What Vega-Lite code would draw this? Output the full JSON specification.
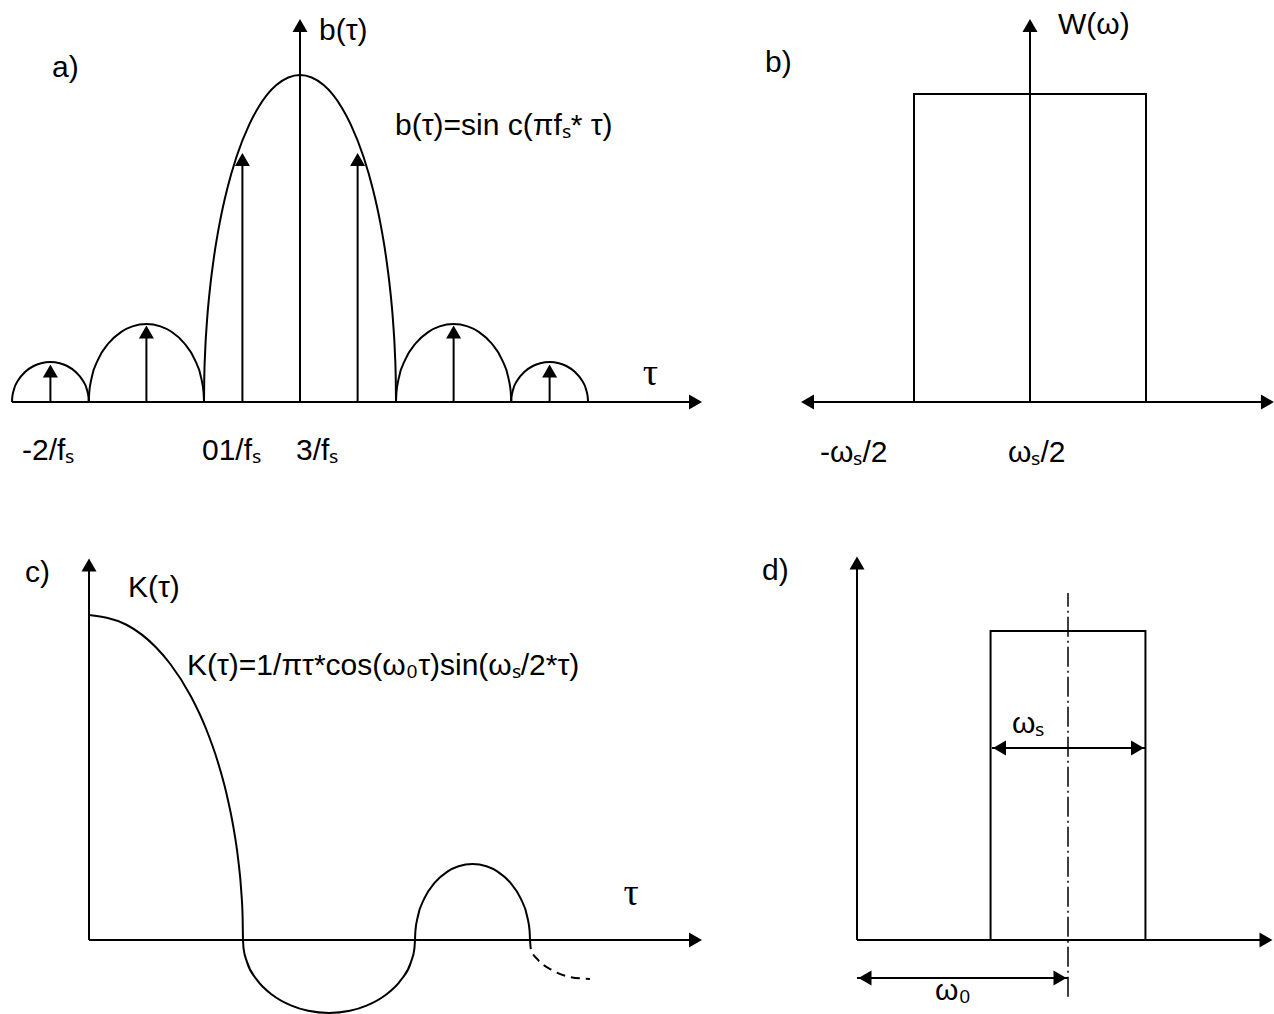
{
  "$schema": "https://vega.github.io/schema/vega-lite/v6.json",
  "padding": 0,
  "bounds": "flush",
  "spacing": 0,
  "columns": 2,
  "background": "white",
  "config": {"view": {"stroke": null}},
  "datasets": {
    "aCurves": [
      {"seg": "L3", "x": -3.0, "y": 0}, {"seg": "L3", "x": -2.9971, "y": 0.0147}, {"seg": "L3", "x": -2.9816, "y": 0.0367}, {"seg": "L3", "x": -2.934, "y": 0.0673}, {"seg": "L3", "x": -2.8644, "y": 0.0917}, {"seg": "L3", "x": -2.7744, "y": 0.1101}, {"seg": "L3", "x": -2.6972, "y": 0.1186}, {"seg": "L3", "x": -2.6, "y": 0.1223}, {"seg": "L3", "x": -2.5028, "y": 0.1186}, {"seg": "L3", "x": -2.4256, "y": 0.1101}, {"seg": "L3", "x": -2.3356, "y": 0.0917}, {"seg": "L3", "x": -2.266, "y": 0.0673}, {"seg": "L3", "x": -2.2184, "y": 0.0367}, {"seg": "L3", "x": -2.2029, "y": 0.0147}, {"seg": "L3", "x": -2.2, "y": 0},
      {"seg": "L2", "x": -2.2, "y": 0}, {"seg": "L2", "x": -2.1957, "y": 0.0286}, {"seg": "L2", "x": -2.1724, "y": 0.0716}, {"seg": "L2", "x": -2.101, "y": 0.1312}, {"seg": "L2", "x": -1.9966, "y": 0.1789}, {"seg": "L2", "x": -1.8616, "y": 0.2147}, {"seg": "L2", "x": -1.7458, "y": 0.2313}, {"seg": "L2", "x": -1.6, "y": 0.2385}, {"seg": "L2", "x": -1.4542, "y": 0.2313}, {"seg": "L2", "x": -1.3384, "y": 0.2147}, {"seg": "L2", "x": -1.2034, "y": 0.1789}, {"seg": "L2", "x": -1.099, "y": 0.1312}, {"seg": "L2", "x": -1.0276, "y": 0.0716}, {"seg": "L2", "x": -1.0043, "y": 0.0286}, {"seg": "L2", "x": -1.0, "y": 0},
      {"seg": "M", "x": -1.0, "y": 0}, {"seg": "M", "x": -0.9975, "y": 0.07}, {"seg": "M", "x": -0.9887, "y": 0.15}, {"seg": "M", "x": -0.9682, "y": 0.25}, {"seg": "M", "x": -0.9367, "y": 0.35}, {"seg": "M", "x": -0.893, "y": 0.45}, {"seg": "M", "x": -0.8352, "y": 0.55}, {"seg": "M", "x": -0.76, "y": 0.65}, {"seg": "M", "x": -0.6614, "y": 0.75}, {"seg": "M", "x": -0.5268, "y": 0.85}, {"seg": "M", "x": -0.4359, "y": 0.9}, {"seg": "M", "x": -0.2431, "y": 0.97}, {"seg": "M", "x": 0, "y": 1}, {"seg": "M", "x": 0.2431, "y": 0.97}, {"seg": "M", "x": 0.4359, "y": 0.9}, {"seg": "M", "x": 0.5268, "y": 0.85}, {"seg": "M", "x": 0.6614, "y": 0.75}, {"seg": "M", "x": 0.76, "y": 0.65}, {"seg": "M", "x": 0.8352, "y": 0.55}, {"seg": "M", "x": 0.893, "y": 0.45}, {"seg": "M", "x": 0.9367, "y": 0.35}, {"seg": "M", "x": 0.9682, "y": 0.25}, {"seg": "M", "x": 0.9887, "y": 0.15}, {"seg": "M", "x": 0.9975, "y": 0.07}, {"seg": "M", "x": 1.0, "y": 0},
      {"seg": "R2", "x": 1.0, "y": 0}, {"seg": "R2", "x": 1.0043, "y": 0.0286}, {"seg": "R2", "x": 1.0276, "y": 0.0716}, {"seg": "R2", "x": 1.099, "y": 0.1312}, {"seg": "R2", "x": 1.2034, "y": 0.1789}, {"seg": "R2", "x": 1.3384, "y": 0.2147}, {"seg": "R2", "x": 1.4542, "y": 0.2313}, {"seg": "R2", "x": 1.6, "y": 0.2385}, {"seg": "R2", "x": 1.7458, "y": 0.2313}, {"seg": "R2", "x": 1.8616, "y": 0.2147}, {"seg": "R2", "x": 1.9966, "y": 0.1789}, {"seg": "R2", "x": 2.101, "y": 0.1312}, {"seg": "R2", "x": 2.1724, "y": 0.0716}, {"seg": "R2", "x": 2.1957, "y": 0.0286}, {"seg": "R2", "x": 2.2, "y": 0},
      {"seg": "R3", "x": 2.2, "y": 0}, {"seg": "R3", "x": 2.2029, "y": 0.0147}, {"seg": "R3", "x": 2.2184, "y": 0.0367}, {"seg": "R3", "x": 2.266, "y": 0.0673}, {"seg": "R3", "x": 2.3356, "y": 0.0917}, {"seg": "R3", "x": 2.4256, "y": 0.1101}, {"seg": "R3", "x": 2.5028, "y": 0.1186}, {"seg": "R3", "x": 2.6, "y": 0.1223}, {"seg": "R3", "x": 2.6972, "y": 0.1186}, {"seg": "R3", "x": 2.7744, "y": 0.1101}, {"seg": "R3", "x": 2.8644, "y": 0.0917}, {"seg": "R3", "x": 2.934, "y": 0.0673}, {"seg": "R3", "x": 2.9816, "y": 0.0367}, {"seg": "R3", "x": 2.9971, "y": 0.0147}, {"seg": "R3", "x": 3.0, "y": 0}
    ],
    "aRules": [
      {"x": -3.0, "y": 0, "x2": 4.0625, "y2": 0},
      {"x": 0, "y": 0, "x2": 0, "y2": 1.1514},
      {"x": -0.6, "y": 0, "x2": -0.6, "y2": 0.7416},
      {"x": 0.6, "y": 0, "x2": 0.6, "y2": 0.7416},
      {"x": -1.6, "y": 0, "x2": -1.6, "y2": 0.214},
      {"x": 1.6, "y": 0, "x2": 1.6, "y2": 0.214},
      {"x": -2.6, "y": 0, "x2": -2.6, "y2": 0.0948},
      {"x": 2.6, "y": 0, "x2": 2.6, "y2": 0.0948}
    ],
    "aHeads": [
      {"x": 4.1198, "y": 0, "dir": "right"},
      {"x": 0, "y": 1.1514, "dir": "up"},
      {"x": -0.6, "y": 0.7416, "dir": "up"},
      {"x": 0.6, "y": 0.7416, "dir": "up"},
      {"x": -1.6, "y": 0.214, "dir": "up"},
      {"x": 1.6, "y": 0.214, "dir": "up"},
      {"x": -2.6, "y": 0.0948, "dir": "up"},
      {"x": 2.6, "y": 0.0948, "dir": "up"}
    ],
    "aText": [
      {"x": -2.583, "y": 0.9939, "t": "a)"},
      {"x": 0.198, "y": 1.107, "t": "b(τ)"},
      {"x": 0.9896, "y": 0.8165, "t": "b(τ)=sin c(πfₛ* τ)"},
      {"x": -2.896, "y": -0.1774, "t": "-2/fₛ"},
      {"x": -1.021, "y": -0.1774, "t": "01/fₛ"},
      {"x": -0.0417, "y": -0.1774, "t": "3/fₛ"}
    ],
    "aSerif": [
      {"x": 3.57, "y": 0.052, "t": "τ"}
    ],
    "bRules": [
      {"x": -1.914, "y": 0, "x2": 2.0, "y2": 0},
      {"x": 0, "y": 0, "x2": 0, "y2": 1.2078}
    ],
    "bRect": [
      {"x": -1, "y": 0, "x2": 1, "y2": 1}
    ],
    "bHeads": [
      {"x": -1.918, "y": 0, "dir": "left"},
      {"x": 2.047, "y": 0, "dir": "right"},
      {"x": 0, "y": 1.2224, "dir": "up"}
    ],
    "bText": [
      {"x": -2.284, "y": 1.0714, "t": "b)"},
      {"x": 0.2414, "y": 1.1948, "t": "W(ω)"},
      {"x": -1.81, "y": -0.1948, "t": "-ωₛ/2"},
      {"x": -0.1897, "y": -0.1948, "t": "ωₛ/2"}
    ],
    "cCurves": [
      {"seg": "main", "x": 0, "y": 1}, {"seg": "main", "x": 0.2431, "y": 0.97}, {"seg": "main", "x": 0.4359, "y": 0.9}, {"seg": "main", "x": 0.5268, "y": 0.85}, {"seg": "main", "x": 0.6614, "y": 0.75}, {"seg": "main", "x": 0.76, "y": 0.65}, {"seg": "main", "x": 0.8352, "y": 0.55}, {"seg": "main", "x": 0.893, "y": 0.45}, {"seg": "main", "x": 0.9367, "y": 0.35}, {"seg": "main", "x": 0.9682, "y": 0.25}, {"seg": "main", "x": 0.9887, "y": 0.15}, {"seg": "main", "x": 0.9975, "y": 0.07}, {"seg": "main", "x": 1.0, "y": 0},
      {"seg": "neg", "x": 1.0, "y": 0}, {"seg": "neg", "x": 1.004, "y": -0.027}, {"seg": "neg", "x": 1.0257, "y": -0.0674}, {"seg": "neg", "x": 1.0921, "y": -0.1235}, {"seg": "neg", "x": 1.1893, "y": -0.1685}, {"seg": "neg", "x": 1.3149, "y": -0.2021}, {"seg": "neg", "x": 1.4227, "y": -0.2179}, {"seg": "neg", "x": 1.5584, "y": -0.2246}, {"seg": "neg", "x": 1.6941, "y": -0.2179}, {"seg": "neg", "x": 1.8019, "y": -0.2021}, {"seg": "neg", "x": 1.9275, "y": -0.1685}, {"seg": "neg", "x": 2.0247, "y": -0.1235}, {"seg": "neg", "x": 2.0911, "y": -0.0674}, {"seg": "neg", "x": 2.1128, "y": -0.027}, {"seg": "neg", "x": 2.1168, "y": 0},
      {"seg": "pos", "x": 2.1168, "y": 0}, {"seg": "pos", "x": 2.1196, "y": 0.0281}, {"seg": "pos", "x": 2.1341, "y": 0.0701}, {"seg": "pos", "x": 2.1785, "y": 0.1286}, {"seg": "pos", "x": 2.2435, "y": 0.1754}, {"seg": "pos", "x": 2.3275, "y": 0.2104}, {"seg": "pos", "x": 2.3996, "y": 0.2268}, {"seg": "pos", "x": 2.4903, "y": 0.2338}, {"seg": "pos", "x": 2.581, "y": 0.2268}, {"seg": "pos", "x": 2.6531, "y": 0.2104}, {"seg": "pos", "x": 2.7371, "y": 0.1754}, {"seg": "pos", "x": 2.8021, "y": 0.1286}, {"seg": "pos", "x": 2.8465, "y": 0.0701}, {"seg": "pos", "x": 2.861, "y": 0.0281}, {"seg": "pos", "x": 2.8637, "y": 0}
    ],
    "cDashed": [
      {"x": 2.8637, "y": 0}, {"x": 2.87, "y": -0.03}, {"x": 2.916, "y": -0.0615}, {"x": 3.006, "y": -0.0923}, {"x": 3.123, "y": -0.1138}, {"x": 3.253, "y": -0.12}
    ],
    "cRules": [
      {"x": 0, "y": 0, "x2": 3.9026, "y2": 0},
      {"x": 0, "y": 0, "x2": 0, "y2": 1.1538}
    ],
    "cHeads": [
      {"x": 3.9383, "y": 0, "dir": "right"},
      {"x": 0, "y": 1.1538, "dir": "up"}
    ],
    "cText": [
      {"x": -0.4156, "y": 1.1015, "t": "c)"},
      {"x": 0.2532, "y": 1.0554, "t": "K(τ)"},
      {"x": 0.6364, "y": 0.8154, "t": "K(τ)=1/πτ*cos(ω₀τ)sin(ωₛ/2*τ)"}
    ],
    "cSerif": [
      {"x": 3.47, "y": 0.1077, "t": "τ"}
    ],
    "dRules": [
      {"x": 0, "y": 0, "x2": 1.919, "y2": 0},
      {"x": 0, "y": 0, "x2": 0, "y2": 1.22},
      {"x": 0.64, "y": 0.6214, "x2": 1.365, "y2": 0.6214},
      {"x": 0.0, "y": -0.123, "x2": 1.0, "y2": -0.123}
    ],
    "dCenter": [
      {"x": 1.0, "y": -0.184, "x2": 1.0, "y2": 1.123}
    ],
    "dRect": [
      {"x": 0.633, "y": 0, "x2": 1.367, "y2": 1}
    ],
    "dHeads": [
      {"x": 1.9384, "y": 0, "dir": "right"},
      {"x": 0, "y": 1.22, "dir": "up"},
      {"x": 0.6754, "y": 0.6214, "dir": "left"},
      {"x": 1.3294, "y": 0.6214, "dir": "right"},
      {"x": 0.0379, "y": -0.123, "dir": "left"},
      {"x": 0.962, "y": -0.123, "dir": "right"}
    ],
    "dText": [
      {"x": -0.4502, "y": 1.165, "t": "d)"},
      {"x": 0.7346, "y": 0.6699, "t": "ωₛ"},
      {"x": 0.3697, "y": -0.1942, "t": "ω₀"}
    ]
  },
  "concat": [
    {
      "width": 730, "height": 507,
      "encoding": {
        "x": {"field": "x", "type": "quantitative", "scale": {"domain": [-3.125, 4.479], "nice": false, "zero": false}, "axis": null},
        "y": {"field": "y", "type": "quantitative", "scale": {"domain": [-0.3211, 1.2294], "nice": false, "zero": false}, "axis": null}
      },
      "layer": [
        {"data": {"name": "aCurves"}, "mark": {"type": "line", "interpolate": "monotone", "strokeWidth": 2, "color": "black"}, "encoding": {"detail": {"field": "seg"}}},
        {"data": {"name": "aRules"}, "mark": {"type": "rule", "strokeWidth": 2, "color": "black"}, "encoding": {"x2": {"field": "x2"}, "y2": {"field": "y2"}}},
        {"data": {"name": "aHeads"}, "mark": {"type": "point", "filled": true, "size": 225, "color": "black", "opacity": 1, "strokeWidth": 0}, "encoding": {"shape": {"field": "dir", "type": "nominal", "scale": {"domain": ["up", "down", "left", "right"], "range": ["triangle-up", "triangle-down", "triangle-left", "triangle-right"]}, "legend": null}}},
        {"data": {"name": "aText"}, "mark": {"type": "text", "align": "left", "baseline": "alphabetic", "font": "Liberation Sans", "fontSize": 30, "color": "black"}, "encoding": {"text": {"field": "t"}}},
        {"data": {"name": "aSerif"}, "mark": {"type": "text", "align": "left", "baseline": "alphabetic", "font": "Liberation Serif", "fontSize": 38, "color": "black"}, "encoding": {"text": {"field": "t"}}}
      ]
    },
    {
      "width": 544, "height": 507,
      "encoding": {
        "x": {"field": "x", "type": "quantitative", "scale": {"domain": [-2.5862, 2.1034], "nice": false, "zero": false}, "axis": null},
        "y": {"field": "y", "type": "quantitative", "scale": {"domain": [-0.3409, 1.3052], "nice": false, "zero": false}, "axis": null}
      },
      "layer": [
        {"data": {"name": "bRect"}, "mark": {"type": "rect", "fillOpacity": 0, "stroke": "black", "strokeWidth": 2}, "encoding": {"x2": {"field": "x2"}, "y2": {"field": "y2"}}},
        {"data": {"name": "bRules"}, "mark": {"type": "rule", "strokeWidth": 2, "color": "black"}, "encoding": {"x2": {"field": "x2"}, "y2": {"field": "y2"}}},
        {"data": {"name": "bHeads"}, "mark": {"type": "point", "filled": true, "size": 225, "color": "black", "opacity": 1, "strokeWidth": 0}, "encoding": {"shape": {"field": "dir", "type": "nominal", "scale": {"domain": ["up", "down", "left", "right"], "range": ["triangle-up", "triangle-down", "triangle-left", "triangle-right"]}, "legend": null}}},
        {"data": {"name": "bText"}, "mark": {"type": "text", "align": "left", "baseline": "alphabetic", "font": "Liberation Sans", "fontSize": 30, "color": "black"}, "encoding": {"text": {"field": "t"}}}
      ]
    },
    {
      "width": 730, "height": 507,
      "encoding": {
        "x": {"field": "x", "type": "quantitative", "scale": {"domain": [-0.5779, 4.1623], "nice": false, "zero": false}, "axis": null},
        "y": {"field": "y", "type": "quantitative", "scale": {"domain": [-0.2277, 1.3323], "nice": false, "zero": false}, "axis": null}
      },
      "layer": [
        {"data": {"name": "cCurves"}, "mark": {"type": "line", "interpolate": "monotone", "strokeWidth": 2, "color": "black"}, "encoding": {"detail": {"field": "seg"}}},
        {"data": {"name": "cDashed"}, "mark": {"type": "line", "interpolate": "monotone", "strokeWidth": 2, "color": "black", "strokeDash": [9, 6]}, "encoding": {}},
        {"data": {"name": "cRules"}, "mark": {"type": "rule", "strokeWidth": 2, "color": "black"}, "encoding": {"x2": {"field": "x2"}, "y2": {"field": "y2"}}},
        {"data": {"name": "cHeads"}, "mark": {"type": "point", "filled": true, "size": 225, "color": "black", "opacity": 1, "strokeWidth": 0}, "encoding": {"shape": {"field": "dir", "type": "nominal", "scale": {"domain": ["up", "down", "left", "right"], "range": ["triangle-up", "triangle-down", "triangle-left", "triangle-right"]}, "legend": null}}},
        {"data": {"name": "cText"}, "mark": {"type": "text", "align": "left", "baseline": "alphabetic", "font": "Liberation Sans", "fontSize": 30, "color": "black"}, "encoding": {"text": {"field": "t"}}},
        {"data": {"name": "cSerif"}, "mark": {"type": "text", "align": "left", "baseline": "alphabetic", "font": "Liberation Serif", "fontSize": 38, "color": "black"}, "encoding": {"text": {"field": "t"}}}
      ]
    },
    {
      "width": 544, "height": 507,
      "encoding": {
        "x": {"field": "x", "type": "quantitative", "scale": {"domain": [-0.6019, 1.9763], "nice": false, "zero": false}, "axis": null},
        "y": {"field": "y", "type": "quantitative", "scale": {"domain": [-0.2395, 1.4013], "nice": false, "zero": false}, "axis": null}
      },
      "layer": [
        {"data": {"name": "dRect"}, "mark": {"type": "rect", "fillOpacity": 0, "stroke": "black", "strokeWidth": 2}, "encoding": {"x2": {"field": "x2"}, "y2": {"field": "y2"}}},
        {"data": {"name": "dRules"}, "mark": {"type": "rule", "strokeWidth": 2, "color": "black"}, "encoding": {"x2": {"field": "x2"}, "y2": {"field": "y2"}}},
        {"data": {"name": "dCenter"}, "mark": {"type": "rule", "strokeWidth": 1.5, "color": "black", "strokeDash": [20, 4, 2, 4]}, "encoding": {"x2": {"field": "x2"}, "y2": {"field": "y2"}}},
        {"data": {"name": "dHeads"}, "mark": {"type": "point", "filled": true, "size": 225, "color": "black", "opacity": 1, "strokeWidth": 0}, "encoding": {"shape": {"field": "dir", "type": "nominal", "scale": {"domain": ["up", "down", "left", "right"], "range": ["triangle-up", "triangle-down", "triangle-left", "triangle-right"]}, "legend": null}}},
        {"data": {"name": "dText"}, "mark": {"type": "text", "align": "left", "baseline": "alphabetic", "font": "Liberation Sans", "fontSize": 30, "color": "black"}, "encoding": {"text": {"field": "t"}}}
      ]
    }
  ]
}
